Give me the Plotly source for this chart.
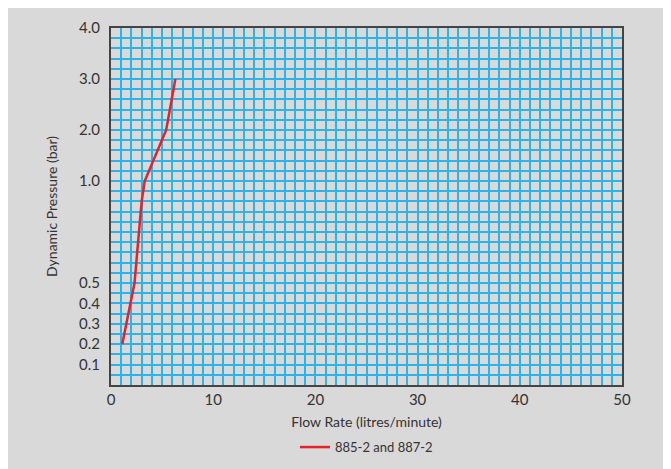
import numpy as np
import plotly.graph_objects as go

# Data
flow = [1.1, 1.5, 1.95, 2.3, 3.0, 3.3, 5.4, 6.3]
pressure = [0.2, 0.3, 0.4, 0.5, 0.9, 1.0, 2.0, 3.0]
series_name = "885-2 and 887-2"
x_ticks = [0, 10, 20, 30, 40, 50]
y_tick_values = [0.1, 0.2, 0.3, 0.4, 0.5, 1.0, 2.0, 3.0, 4.0]
y_tick_labels = ["0.1", "0.2", "0.3", "0.4", "0.5", "1.0", "2.0", "3.0", "4.0"]

# The chart's pressure scale is piecewise linear: 0-1 bar over 20 grid units, 1-4 bar over 15
scale_in = [0, 1, 4]
scale_out = [0, 20, 35]
def to_axis(p):
    return np.interp(p, scale_in, scale_out)

BG = "#d9d9d9"
GRID = "#2cb4ea"
TXT = "#333333"
FONT = "Lato, 'Noto Sans', sans-serif"

fig = go.Figure()
fig.add_trace(go.Scatter(
    x=flow, y=to_axis(pressure), mode="lines", name=series_name,
    line=dict(color="#e8202a", width=2.5),
))

fig.update_layout(
    width=671, height=469,
    margin=dict(l=103, r=57, t=20, b=92),
    paper_bgcolor=BG, plot_bgcolor=BG,
    font=dict(family=FONT, color=TXT, size=13),
    showlegend=True,
    legend=dict(orientation="h", x=0.5, xanchor="center", y=-0.174, yanchor="middle",
                font=dict(size=13, color=TXT), bgcolor="rgba(0,0,0,0)"),
)
fig.update_xaxes(
    range=[0, 50], tickvals=x_ticks, ticktext=[str(v) for v in x_ticks],
    showgrid=True, gridcolor=GRID, gridwidth=1.5,
    minor=dict(dtick=1, tick0=0, showgrid=True, gridcolor=GRID, gridwidth=1.5),
    showline=True, linecolor="#444444", linewidth=2, mirror=True,
    zeroline=False, ticks="",
    tickfont=dict(size=15, color=TXT), automargin=False,
    title=dict(text="Flow Rate (litres/minute)", font=dict(size=14, color=TXT), standoff=10),
)
fig.update_yaxes(
    range=[0, 35], tickvals=list(to_axis(y_tick_values)), ticktext=y_tick_labels,
    showgrid=True, gridcolor=GRID, gridwidth=1.5,
    minor=dict(dtick=1, tick0=0, showgrid=True, gridcolor=GRID, gridwidth=1.5),
    showline=True, linecolor="#444444", linewidth=2, mirror=True,
    zeroline=False, ticks="outside", ticklen=6, tickcolor=BG,
    tickfont=dict(size=15, color=TXT), automargin=False,
    title=dict(text="Dynamic Pressure (bar)", font=dict(size=14, color=TXT), standoff=18),
)

fig.write_html("out.html")
